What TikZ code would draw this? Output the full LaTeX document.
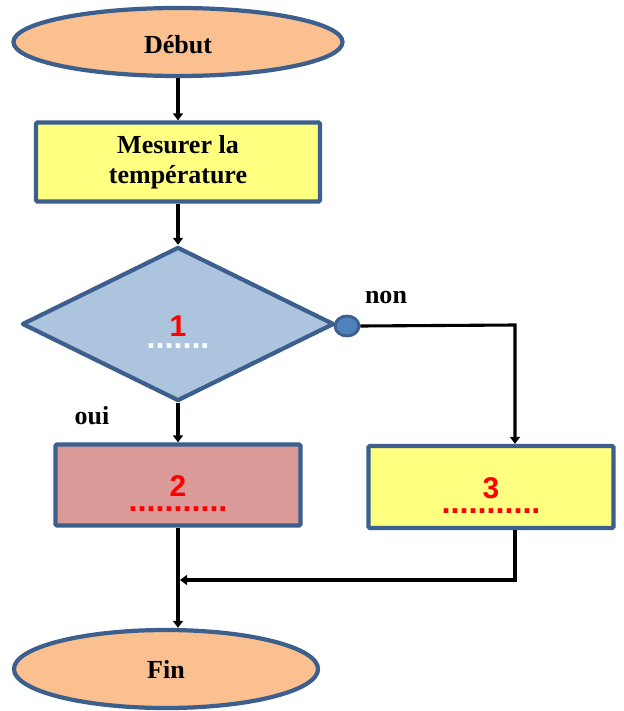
\documentclass[tikz,border=0pt]{standalone}
\usepackage{fontspec}
\setmainfont{Liberation Serif}
\newfontfamily\numfont{Liberation Sans}
\usetikzlibrary{arrows.meta,positioning,shapes.geometric}
\definecolor{bordblue}{HTML}{3C5F8E}
\definecolor{termorange}{HTML}{FAC090}
\definecolor{procyellow}{HTML}{FFFF80}
\definecolor{testblue}{HTML}{ADC4DF}
\definecolor{answerpink}{HTML}{D99A98}
\definecolor{pinblue}{HTML}{4F81BD}
\newcommand{\dotline}[2]{{\fontsize{23}{23}\selectfont\textcolor{#1}{#2}}}
\tikzset{
  flow/.style={draw=bordblue, line width=3pt, align=center, inner sep=0pt,
    font=\fontsize{18.5}{21.3}\selectfont\bfseries},
  term/.style={flow, ellipse, fill=termorange},
  proc/.style={flow, rectangle, rounded corners=1pt, fill=procyellow},
  answer/.style={flow, rectangle, rounded corners=1pt, fill=answerpink},
  test/.style={flow, diamond, line join=round, fill=testblue},
  blank/.style={font=\numfont\fontsize{21.3}{21.3}\selectfont\bfseries},
  arr/.style={-{Triangle[length=5pt,width=7pt]}, line width=2.2pt},
  tag/.style={font=\fontsize{18.5}{21.3}\selectfont\bfseries}
}

\begin{document}
\begin{tikzpicture}[x=0.025cm,y=-0.025cm]
\useasboundingbox (0,0) rectangle (624,711);
\node[term, minimum width=8.225cm, minimum height=1.7cm] (debut) at (178,42) {\rule{0pt}{16pt}Début};
\node[proc, minimum width=7.1cm, minimum height=1.975cm] (mesure) at (178,162) {Mesurer la\\température};
\node[test, minimum width=7.8cm, minimum height=3.85cm, blank] (cond) at (178,324)
  {\rule{0pt}{26pt}\textcolor{red}{1}\\[-13pt]\dotline{white}{.......}};
\node[draw=bordblue, fill=pinblue, ellipse, line width=2pt, inner sep=0pt,
  minimum width=0.6cm, minimum height=0.5cm] (nonpin) at (347,326) {};
\node[answer, minimum width=6.125cm, minimum height=2.025cm, blank] (b2) at (178,485)
  {\rule{0pt}{27pt}\textcolor{red}{2}\\[-10pt]\dotline{red}{...........}};
\node[proc, minimum width=6.125cm, minimum height=2.05cm, blank] (b3) at (491,487)
  {\rule{0pt}{27pt}\textcolor{red}{3}\\[-10pt]\dotline{red}{...........}};
\node[term, minimum width=7.6cm, minimum height=1.95cm] (fin) at (166,669) {Fin};
\node[tag] (non) at (386,297) {non};
\node[tag] (oui) at (92,416) {oui};
\coordinate (turn) at (515,325);
\coordinate (joint) at (180,580);
\draw[arr] (debut) -- (mesure);
\draw[arr] (mesure) -- (cond);
\draw[arr] (cond) -- (b2);
\draw[arr] (nonpin.east) -- (turn) -- (turn |- b3.north);
\draw[arr] (b2) -- (b2 |- fin.north);
\draw[arr] (b3.south -| turn) |- (joint);
\end{tikzpicture}
\end{document}
